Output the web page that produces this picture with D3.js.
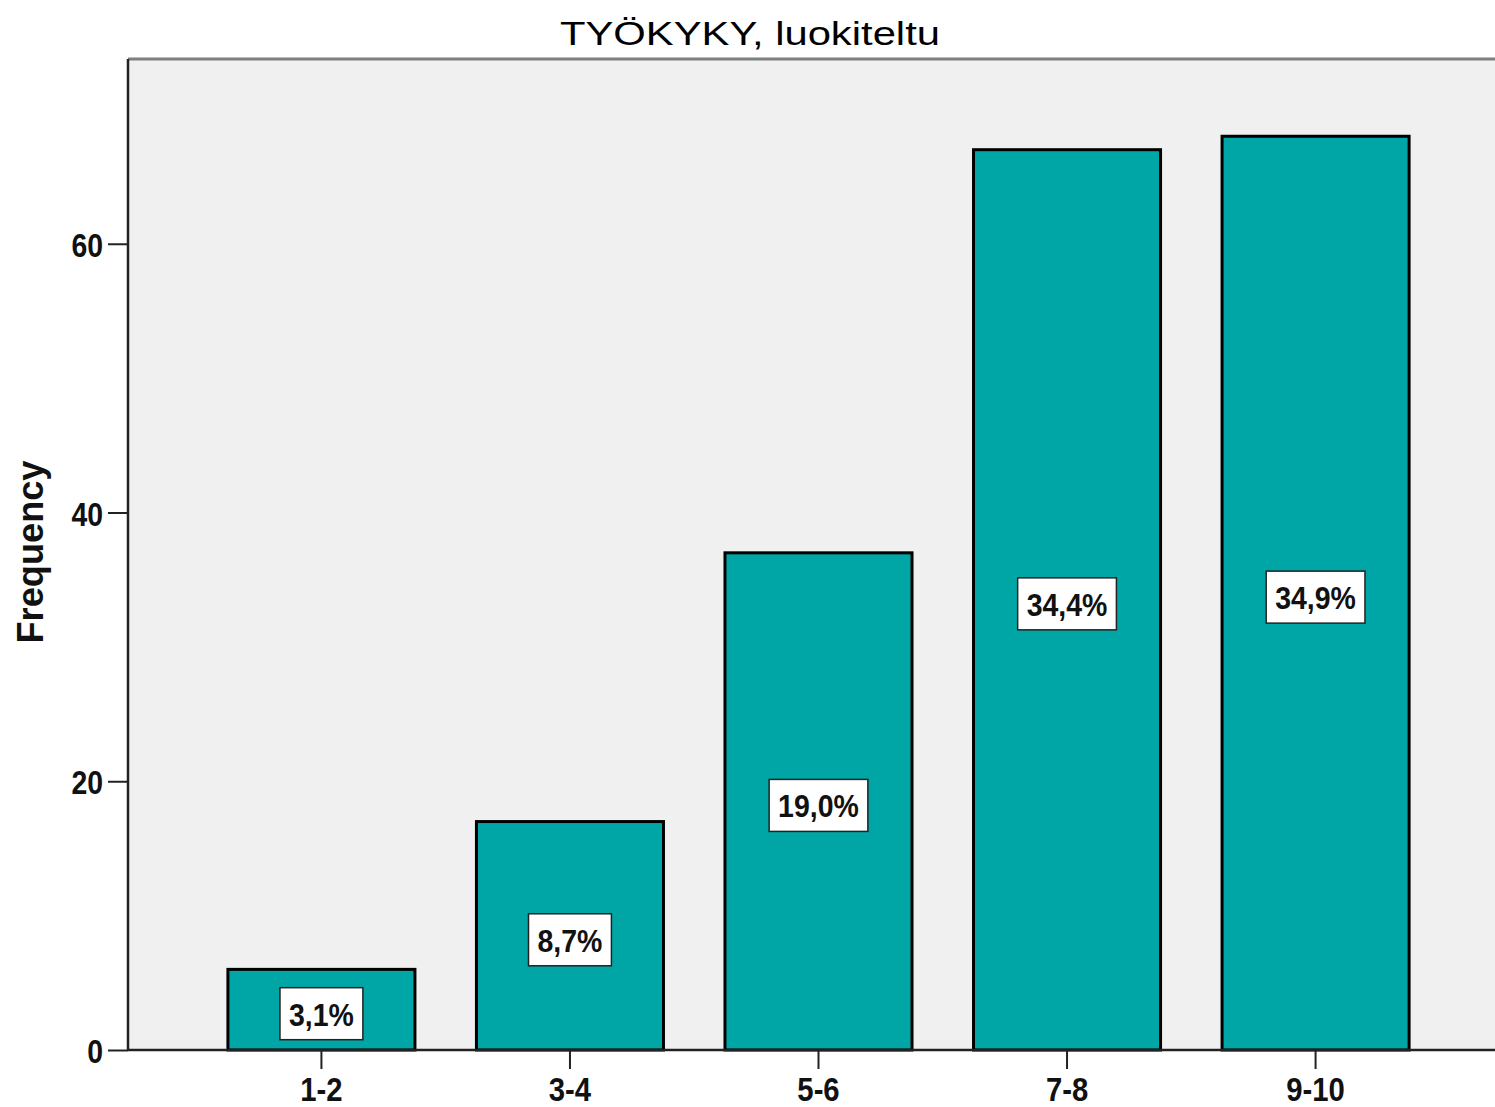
<!DOCTYPE html>
<html><head><meta charset="utf-8">
<script src="https://cdn.jsdelivr.net/npm/d3@7"></script>
<style>body{margin:0;background:#fff}svg{display:block}</style>
</head><body>
<script>
const categories = ["1-2","3-4","5-6","7-8","9-10"];
const frequencies = [6,17,37,67,68];
const percentLabels = ["3,1%","8,7%","19,0%","34,4%","34,9%"];
const yTicks = [0,20,40,60];
const titleText = "TYÖKYKY, luokiteltu";
const yTitle = "Frequency";

(function(){
const W=1495,H=1107;
const pL=128, pT=59, pR=1495, pB=1050;
const sans = "'Liberation Sans',Arial,sans-serif";
const squeeze = f => sel => sel.each(function(){
  const w=this.getComputedTextLength();
  d3.select(this).attr("textLength",w*f).attr("lengthAdjust","spacingAndGlyphs");
});

const svg=d3.select("body").append("svg").attr("width",W).attr("height",H);

const x=d3.scaleBand().domain(categories).range([pL,1509]).paddingInner(0.2475).paddingOuter(0.402);
const y=d3.scaleLinear().domain([0,73.75]).range([pB,pT]);

svg.append("rect").attr("x",pL).attr("y",pT).attr("width",pR-pL).attr("height",pB-pT).attr("fill","#f0f0f0");
svg.append("line").attr("x1",pL).attr("x2",pR).attr("y1",pT).attr("y2",pT).attr("stroke","#7f7f7f").attr("stroke-width",3);

svg.append("text").attr("x",750).attr("y",45).attr("text-anchor","middle")
  .attr("font-family",sans).attr("font-size",33)
  .attr("textLength",380).attr("lengthAdjust","spacingAndGlyphs").text(titleText);

// bars
svg.selectAll("rect.bar").data(categories).join("rect").attr("class","bar")
  .attr("x",d=>x(d)).attr("width",x.bandwidth())
  .attr("y",(d,i)=>y(frequencies[i])).attr("height",(d,i)=>y(0)-y(frequencies[i]))
  .attr("fill","#00a6a6").attr("stroke","#000").attr("stroke-width",3);

// axes
const yAxis=svg.append("g").attr("transform",`translate(${pL},0)`)
  .call(d3.axisLeft(y).tickValues(yTicks).tickSize(20).tickPadding(5).tickFormat(d3.format("d")));
yAxis.select(".domain").attr("d",`M0,${pT}V${pB}`).attr("stroke","#222").attr("stroke-width",2.5);
yAxis.selectAll(".tick line").attr("stroke","#222").attr("stroke-width",2);
yAxis.selectAll(".tick text").attr("font-family",sans).attr("font-weight","bold").attr("font-size",33).attr("fill","#111").attr("dy","0.38em").call(squeeze(0.86));

const xAxis=svg.append("g").attr("transform",`translate(0,${pB})`)
  .call(d3.axisBottom(x).tickSize(19).tickPadding(8));
xAxis.select(".domain").attr("d",`M${pL},0H${pR}`).attr("stroke","#222").attr("stroke-width",2.5);
xAxis.selectAll(".tick line").attr("stroke","#222").attr("stroke-width",2);
xAxis.selectAll(".tick text").attr("font-family",sans).attr("font-weight","bold").attr("font-size",34).attr("fill","#111").attr("dy","0.71em").call(squeeze(0.86));

svg.append("text").attr("transform",`translate(43,552) rotate(-90)`).attr("text-anchor","middle")
  .attr("font-family",sans).attr("font-weight","bold").attr("font-size",37)
  .attr("textLength",183).attr("lengthAdjust","spacingAndGlyphs").attr("fill","#111").text(yTitle);

// percent labels
const lg=svg.selectAll("g.lab").data(categories).join("g").attr("class","lab");
lg.each(function(d,i){
  const g=d3.select(this);
  const cx=x(d)+x.bandwidth()/2;
  const base=y(frequencies[i]/2)+16;
  const t=g.append("text").attr("x",cx).attr("y",base).attr("text-anchor","middle")
    .attr("font-family",sans).attr("font-weight","bold").attr("font-size",32).attr("fill","#111").text(percentLabels[i]).call(squeeze(0.89));
  const w=+t.attr("textLength");
  g.insert("rect","text").attr("x",cx-w/2-9).attr("y",base-38).attr("width",w+18).attr("height",52)
    .attr("fill","#fff").attr("stroke","#222").attr("stroke-width",1.5);
});
})();
</script>
</body></html>
